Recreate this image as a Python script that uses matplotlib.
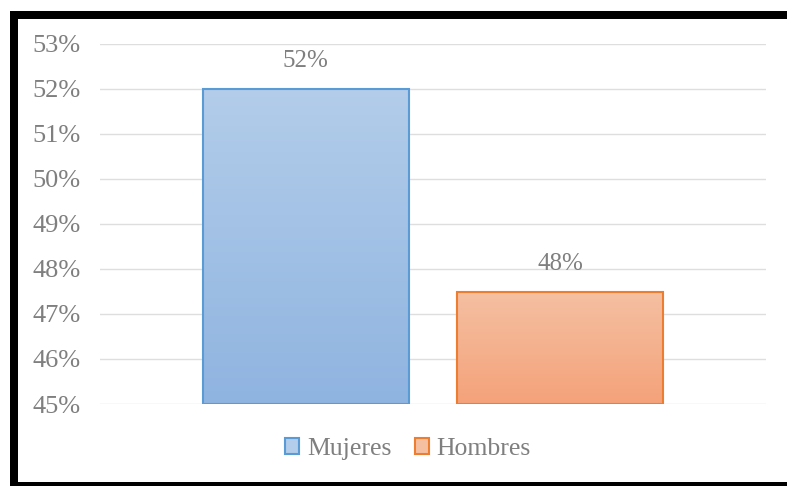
import matplotlib.pyplot as plt
import numpy as np
from matplotlib.patches import Rectangle
from matplotlib.colors import LinearSegmentedColormap

series = ['Mujeres', 'Hombres']
values = [52.0, 47.5]
yticks = [45, 46, 47, 48, 49, 50, 51, 52, 53]

edge_colors = ['#5b9bd5', '#ed7d31']
grad_colors = [('#8fb4e0', '#b3cdea'), ('#f4a27a', '#f5c0a2')]

plt.rcParams['font.family'] = ['Liberation Serif', 'DejaVu Serif']

fig = plt.figure(figsize=(7.87, 4.86), dpi=100)
ax = fig.add_axes([100/787, 82/486, 666/787, 360/486])

xpos = [0.309, 0.691]
width = 0.309
ymin, ymax = 45, 53

for i in range(len(series)):
    bars = ax.bar(xpos[i], values[i] - ymin, bottom=ymin, width=width,
                  facecolor='none', edgecolor=edge_colors[i], linewidth=1.5,
                  zorder=3, label=series[i])
    b = bars[0]
    # vertical gradient fill clipped to the bar
    cmap = LinearSegmentedColormap.from_list('g%d' % i, grad_colors[i])
    grad = np.linspace(0, 1, 256).reshape(-1, 1)
    x0 = xpos[i] - width / 2
    im = ax.imshow(grad, cmap=cmap, aspect='auto', origin='lower',
                   extent=[x0, x0 + width, ymin, values[i]], zorder=2)
    im.set_clip_path(b)
    ax.annotate('%.0f%%' % values[i], (xpos[i], values[i]),
                xytext=(0, 12), textcoords='offset points',
                ha='center', va='bottom', fontsize=18, color='#7f7f7f')

ax.set_xlim(0, 1)
ax.set_ylim(ymin, ymax)
ax.set_yticks(yticks)
ax.set_yticklabels(['%d%%' % t for t in yticks])
ax.set_xticks([])
ax.tick_params(axis='y', length=0, pad=14, labelsize=19, labelcolor='#7f7f7f')
ax.yaxis.grid(True, color='#dedede', linewidth=1.0, zorder=0)
ax.set_axisbelow(True)
for s in ax.spines.values():
    s.set_visible(False)

handles = [Rectangle((0, 0), 1, 1, facecolor=grad_colors[i][1],
                     edgecolor=edge_colors[i], linewidth=1.5) for i in range(2)]
leg = fig.legend(handles, series, loc='center', bbox_to_anchor=(408/787, 1 - 449/486),
                 ncol=2, frameon=False, fontsize=18.5, handlelength=0.55,
                 handleheight=0.6, handletextpad=0.3, columnspacing=0.9,
                 labelcolor='#7f7f7f')

# black frame along top, left and bottom
fig.add_artist(Rectangle((10/787, 1 - 19/486), 1, 8/486, transform=fig.transFigure,
                         facecolor='black', edgecolor='none'))
fig.add_artist(Rectangle((10/787, 0), 8/787, 1 - 11/486, transform=fig.transFigure,
                         facecolor='black', edgecolor='none'))
fig.add_artist(Rectangle((10/787, 0), 1, 4/486, transform=fig.transFigure,
                         facecolor='black', edgecolor='none'))

fig.savefig('out.png', dpi=100, facecolor='white')
